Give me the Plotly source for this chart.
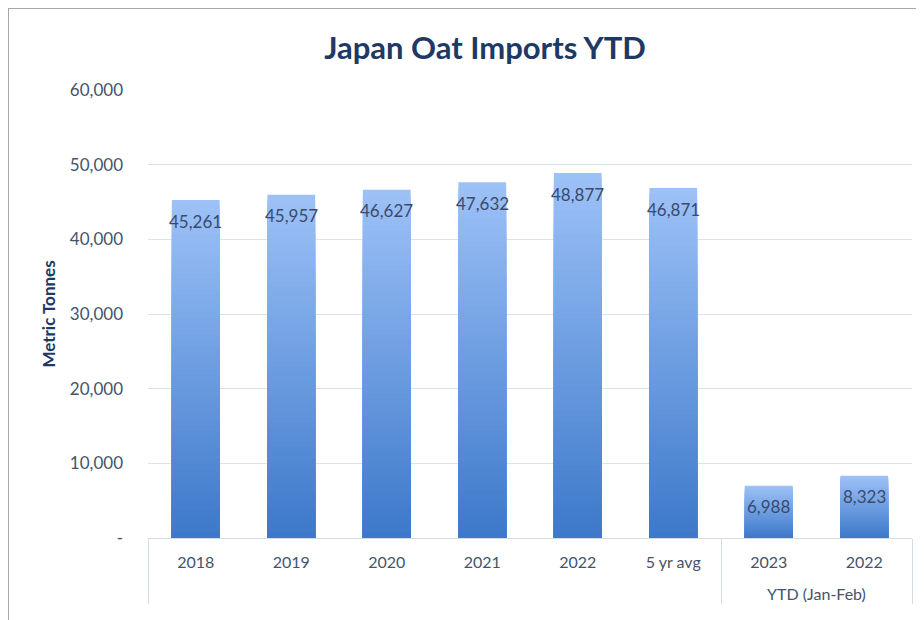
import plotly.graph_objects as go

groups = ["", "", "", "", "", "",
          "<span style='font-size:24px'> </span><br>YTD (Jan-Feb)",
          "<span style='font-size:24px'> </span><br>YTD (Jan-Feb)"]
categories = ["2018", "2019", "2020", "2021", "2022", "5 yr avg", "2023", "\u200b2022"]
values = [45261, 45957, 46627, 47632, 48877, 46871, 6988, 8323]
y_ticks = [0, 10000, 20000, 30000, 40000, 50000, 60000]
y_ticktext = ["-", "10,000", "20,000", "30,000", "40,000", "50,000", "60,000"]

FONT = "Lato"
top_rgb = (0x9C, 0xC1, 0xF7)
bot_rgb = (0x3D, 0x79, 0xCA)
N = 60

fig = go.Figure()
x = [groups, categories]
for k in range(N):
    frac = 1 - k / N
    t = k / (N - 1)
    c = tuple(round(top_rgb[i] + (bot_rgb[i] - top_rgb[i]) * t) for i in range(3))
    fig.add_trace(go.Bar(
        x=x, y=[v * frac for v in values],
        marker=dict(color="rgb(%d,%d,%d)" % c, line=dict(width=0)),
        hoverinfo="skip", showlegend=False, width=0.5,
    ))

# invisible overlay axis for the data labels
fig.add_trace(go.Scatter(
    x=list(range(len(values))), y=values, xaxis="x2", mode="markers",
    marker=dict(size=1, opacity=0), showlegend=False, hoverinfo="skip",
))
for i, v in enumerate(values):
    fig.add_annotation(
        x=i, y=v, xref="x2", yref="y", text=f"{v:,}", showarrow=False,
        yshift=-21, font=dict(family=FONT, size=17, color="#3B4A6B"),
    )

L, R, T, B = 140, 20, 82, 90
PW, PH = 924 - L - R, 620 - T - B

fig.update_layout(
    width=924, height=620,
    margin=dict(l=L, r=R, t=T, b=B),
    paper_bgcolor="white", plot_bgcolor="white",
    barmode="overlay", bargap=0.5,
    title=dict(text="<b>Japan Oat Imports YTD</b>", x=477 / 924, xanchor="center",
               y=1 - 40 / 620, yanchor="middle",
               font=dict(family=FONT, size=31, color="#203864")),
    font=dict(family=FONT, size=16, color="#44546A"),
    xaxis=dict(type="multicategory", showdividers=True, dividercolor="#D6DCE5",
               dividerwidth=1, showline=True, linecolor="#D6DCE5", linewidth=1,
               tickfont=dict(family=FONT, size=16, color="#44546A"),
               ticklabelstandoff=10,
               showgrid=False, ticks=""),
    xaxis2=dict(overlaying="x", range=[-0.5, len(values) - 0.5], visible=False,
                showgrid=False, zeroline=False),
    yaxis=dict(range=[0, 60000], tickvals=y_ticks, ticktext=y_ticktext,
               showgrid=True, gridcolor="#D9E2F3", gridwidth=1, zeroline=False,
               ticklabelstandoff=24,
               tickfont=dict(family=FONT, size=17, color="#44546A"),
               title=dict(text="<b>Metric Tonnes</b>", standoff=9,
                          font=dict(family=FONT, size=17, color="#203864"))),
)

fig.add_shape(type="rect", xref="paper", yref="paper",
              x0=-L / PW, x1=1.5, y0=-0.5, y1=1 + T / PH,
              line=dict(color="#A6A6A6", width=2), fillcolor="rgba(0,0,0,0)", layer="below")

fig.write_html("out.html")
